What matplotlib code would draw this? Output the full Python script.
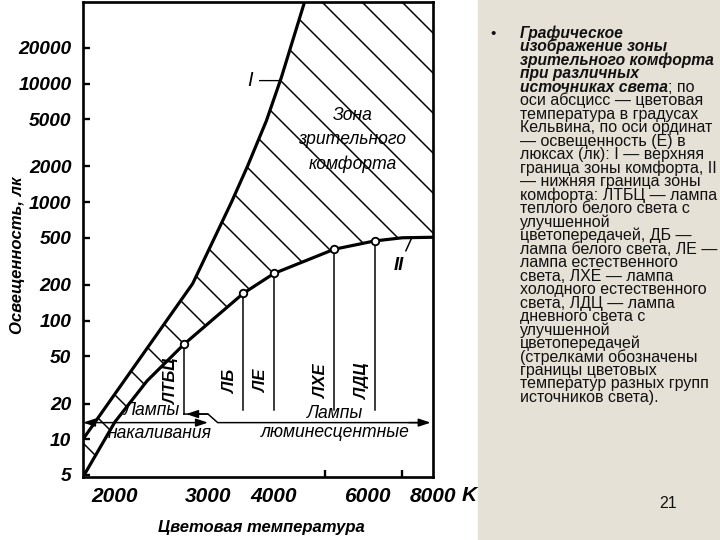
import matplotlib.pyplot as plt
from matplotlib.patches import Rectangle

# upper boundary of the comfort zone (curve I): colour temperature K, illuminance lx
t_upper = [1740, 2806, 3087, 3324, 3563, 3870, 4132, 4570]
e_upper = [10, 205, 500, 1000, 2000, 4850, 11300, 48700]

# lower boundary (curve II)
t_lower = [1740, 2000, 2300, 2700, 3500, 4000, 5200, 6200, 7000, 8000]
e_lower = [4.8, 14, 31, 63, 170, 250, 400, 470, 500, 505]

# lamps sitting on curve II
lamp_names = ['ЛТБЦ', 'ЛБ', 'ЛЕ', 'ЛХЕ', 'ЛДЦ']
lamp_t = [2700, 3500, 4000, 5200, 6200]
lamp_e = [63, 170, 250, 400, 470]
lamp_foot = [16.3, 17.8, 17.8, 17.8, 17.8]

# colour temperature ranges of lamp groups (arrows)
incand_t = [1740, 3000]
incand_e = 13.8
fluor_t = [2700, 3000, 3130, 8000]
fluor_e = [16.3, 16.3, 13.8, 13.8]

y_ticks = [5, 10, 20, 50, 100, 200, 500, 1000, 2000, 5000, 10000, 20000]
x_ticks = [2000, 3000, 4000, 6000, 8000]
x_marks = [2000, 3000, 4000, 5000, 6000, 7000]
t_lim = (1740, 8000)
e_lim = (4.8, 48700)

caption = [
    ('Графическое', 'bi'),
    ('изображение зоны', 'bi'),
    ('зрительного комфорта', 'bi'),
    ('при различных', 'bi'),
    (('источниках света', '; по'), 'mix'),
    ('оси абсцисс — цветовая', 'n'),
    ('температура в градусах', 'n'),
    ('Кельвина, по оси ординат', 'n'),
    ('— освещенность (Е) в', 'n'),
    ('люксах (лк): I — верхняя', 'n'),
    ('граница зоны комфорта, II', 'n'),
    ('— нижняя граница зоны', 'n'),
    ('комфорта: ЛТБЦ — лампа', 'n'),
    ('теплого белого света с', 'n'),
    ('улучшенной', 'n'),
    ('цветопередачей, ДБ —', 'n'),
    ('лампа белого света, ЛЕ —', 'n'),
    ('лампа естественного', 'n'),
    ('света, ЛХЕ — лампа', 'n'),
    ('холодного естественного', 'n'),
    ('света, ЛДЦ — лампа', 'n'),
    ('дневного света с', 'n'),
    ('улучшенной', 'n'),
    ('цветопередачей', 'n'),
    ('(стрелками обозначены', 'n'),
    ('границы цветовых', 'n'),
    ('температур разных групп', 'n'),
    ('источников света).', 'n'),
]

plt.rcParams['font.family'] = ['Liberation Sans', 'DejaVu Sans']
plt.rcParams['hatch.linewidth'] = 0.9
plt.rcParams['hatch.color'] = 'black'

fig = plt.figure(figsize=(6, 4.5), dpi=120, facecolor='#e6e1d6')
fig.add_artist(Rectangle((0, 0), 477 / 720, 1, transform=fig.transFigure,
                         color='white', zorder=-1))

ax = fig.add_axes([83 / 720, 1 - 477 / 540, 350 / 720, 475 / 540])
ax.set_facecolor('white')
ax.set_xscale('log')
ax.set_yscale('log')
ax.set_xlim(*t_lim)
ax.set_ylim(*e_lim)

# hatched comfort zone
zone_t = list(t_lower) + [t_lim[1]] + list(t_upper[::-1])
zone_e = list(e_lower) + [e_lim[1]] + list(e_upper[::-1])
ax.fill(zone_t, zone_e, facecolor='none', edgecolor='black', hatch='\\', linewidth=0)

ax.plot(t_upper, e_upper, color='black', lw=1.9, solid_joinstyle='round')
ax.plot(t_lower, e_lower, color='black', lw=1.9, solid_joinstyle='round')

for name, t, e, f in zip(lamp_names, lamp_t, lamp_e, lamp_foot):
    ax.plot([t, t], [f, e], color='black', lw=0.9)
    ax.annotate(name, xy=(t, 31), xytext=(-7.5, 0), textcoords='offset points',
                rotation=90, ha='center', va='center', fontsize=10,
                fontstyle='italic', fontweight='bold')
ax.plot(lamp_t, lamp_e, 'o', ms=4.5, mfc='white', mec='black', mew=1.1, zorder=5)

arrow = dict(arrowstyle='-|>,head_length=0.6,head_width=0.2', color='black',
             lw=0.9, shrinkA=0, shrinkB=0, mutation_scale=10)
ax.annotate('', xy=(incand_t[1], incand_e), xytext=(incand_t[0], incand_e),
            arrowprops=dict(arrow, arrowstyle='<|-|>,head_length=0.6,head_width=0.2'))
ax.plot(fluor_t[:-1] + [fluor_t[-1] * 0.96], fluor_e, color='black', lw=0.9)
ax.annotate('', xy=(fluor_t[0] * 1.01, fluor_e[0]), xytext=(fluor_t[1], fluor_e[1]),
            arrowprops=arrow)
ax.annotate('', xy=(fluor_t[-1] * 0.99, fluor_e[-1]), xytext=(fluor_t[-1] * 0.9, fluor_e[-1]),
            arrowprops=arrow)

it = dict(fontsize=10.5, fontstyle='italic', ha='center', va='center')
ax.text(2353, 17.5, 'Лампы', **it)
ax.text(2434, 11.1, 'накаливания', **it)
ax.text(5229, 16.6, 'Лампы', **it)
ax.text(5229, 11.3, 'люминесцентные', **it)
ax.text(5630, 3330, 'Зона\nзрительного\nкомфорта', linespacing=1.55, **it)

ax.text(4090, 10600, 'I —', fontsize=12, fontstyle='italic', ha='right', va='center')
ax.annotate('II', xy=(7300, 505), xytext=(6900, 290), fontsize=11, fontstyle='italic',
            fontweight='bold', ha='center', va='center',
            arrowprops=dict(arrowstyle='-', color='black', lw=0.9, shrinkA=2, shrinkB=0))

tick_font = dict(fontstyle='italic', fontweight='bold')
ax.set_yticks(y_ticks, labels=[str(v) for v in y_ticks], fontsize=11.5, **tick_font)
ax.set_xticks(x_ticks, labels=[str(v) for v in x_ticks], fontsize=12.5, **tick_font)
ax.set_xticks(x_marks, minor=True, labels=[''] * len(x_marks))
ax.yaxis.set_minor_locator(plt.NullLocator())
ax.tick_params(which='both', direction='in', length=4, width=1.4)
ax.tick_params(axis='y', pad=7)
ax.tick_params(axis='x', pad=6)
ax.tick_params(axis='x', which='major', length=0)
for s in ax.spines.values():
    s.set_linewidth(1.6)

ax.annotate('K', xy=(1, 0), xycoords='axes fraction', xytext=(22, -11),
            textcoords='offset points', fontsize=12.5, ha='center', va='center', **tick_font)

ax.set_xlabel('Цветовая температура', fontsize=10, **tick_font)
ax.xaxis.set_label_coords(0.511, -0.09)
ax.set_ylabel('Освещенность, лк', fontsize=10, **tick_font)
ax.yaxis.set_label_coords(-0.165, 0.467)

# caption on the right
x0 = 520 / 720
step = 13.48
bi_size = 9.4
n_size = 9.6
renderer = fig.canvas.get_renderer()
for i, (line, kind) in enumerate(caption):
    y = 1 - (38 + i * step) / 540
    if kind == 'bi':
        fig.text(x0, y, line, fontsize=bi_size, fontstyle='italic', fontweight='bold',
                 va='baseline', color='#111111')
    elif kind == 'mix':
        t1 = fig.text(x0, y, line[0], fontsize=bi_size, fontstyle='italic', fontweight='bold',
                      va='baseline', color='#111111')
        w = t1.get_window_extent(renderer).width / 720
        fig.text(x0 + w, y, line[1], fontsize=n_size, va='baseline', color='#111111')
    else:
        fig.text(x0, y, line, fontsize=n_size, va='baseline', color='#111111')
fig.text(493 / 720, 1 - 38 / 540, '•', fontsize=9, ha='center', va='baseline', color='#111111')
fig.text(668 / 720, 1 - 503 / 540, '21', fontsize=n_size, ha='center', va='center', color='#111111')

fig.savefig('out.png', dpi=120, facecolor=fig.get_facecolor())
